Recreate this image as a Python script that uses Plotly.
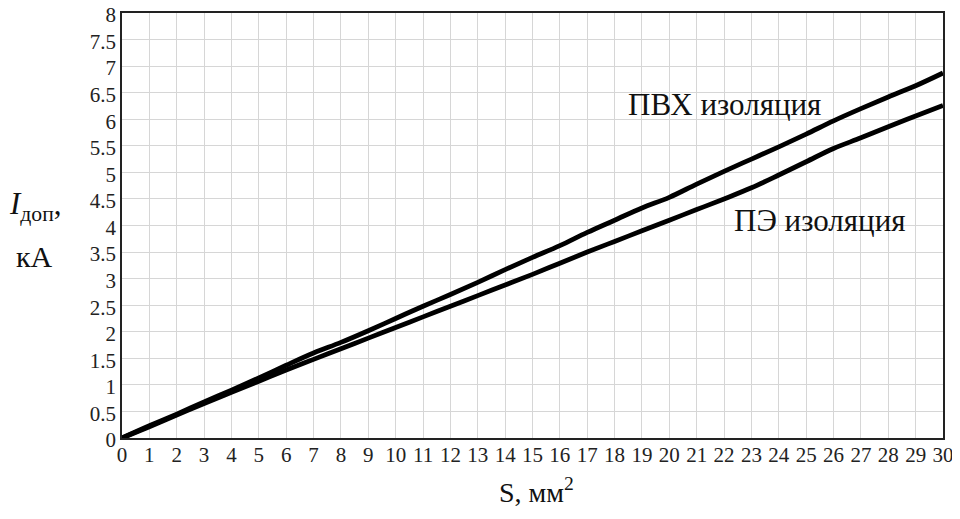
import plotly.graph_objects as go

S = list(range(0, 31))
pvc = [0, 0.23, 0.45, 0.68, 0.9, 1.13, 1.37, 1.6, 1.8, 2.02, 2.25, 2.48, 2.7, 2.93, 3.17,
       3.4, 3.62, 3.87, 4.1, 4.33, 4.53, 4.78, 5.02, 5.25, 5.48, 5.72, 5.97, 6.2, 6.42, 6.63, 6.87]
pe = [0, 0.21, 0.43, 0.65, 0.86, 1.07, 1.28, 1.48, 1.68, 1.88, 2.08, 2.28, 2.48, 2.68, 2.88,
      3.08, 3.29, 3.5, 3.7, 3.9, 4.1, 4.3, 4.5, 4.71, 4.95, 5.2, 5.45, 5.65, 5.86, 6.06, 6.26]
x_ticks = list(range(0, 31))
y_ticks = [i * 0.5 for i in range(0, 17)]
y_tick_text = ["0", "0.5", "1", "1.5", "2", "2.5", "3", "3.5", "4", "4.5", "5", "5.5", "6", "6.5", "7", "7.5", "8"]
label_pvc = "ПВХ изоляция"
label_pe = "ПЭ изоляция"

font_serif = '"Liberation Serif", "Times New Roman", Times, serif'

# page body has an 8px margin: figure sized so the plot lands where the reference has it
OFF = 8
W, H = 960 - OFF, 519 - OFF
pl, pr, pt, pb = 122 - OFF, 17, 13 - OFF, 81
pw, ph = W - pl - pr, H - pt - pb


def px2paper(xp, yp):
    xp -= OFF
    yp -= OFF
    return (xp - pl) / pw, (H - pb - yp) / ph


fig = go.Figure()
fig.add_trace(go.Scatter(x=S, y=pvc, mode="lines", line=dict(color="black", width=4.8, shape="spline"),
                         name=label_pvc, showlegend=False))
fig.add_trace(go.Scatter(x=S, y=pe, mode="lines", line=dict(color="black", width=4.8, shape="spline"),
                         name=label_pe, showlegend=False))

ann = []
ann.append(dict(x=22.0, y=6.27, xref="x", yref="y", text=label_pvc, showarrow=False,
                xanchor="center", yanchor="middle",
                font=dict(size=31, family=font_serif, color="#111")))
ann.append(dict(x=25.5, y=4.1, xref="x", yref="y", text=label_pe, showarrow=False,
                xanchor="center", yanchor="middle",
                font=dict(size=31, family=font_serif, color="#111")))
xx, yy = px2paper(536, 490)
ann.append(dict(x=xx, y=yy, xref="paper", yref="paper", text="S, мм<sup>2</sup>", showarrow=False,
                xanchor="center", yanchor="middle",
                font=dict(size=28, family=font_serif, color="#111")))
xx, yy = px2paper(35, 206)
ann.append(dict(x=xx, y=yy, xref="paper", yref="paper",
                text="<i>I</i><sub>доп</sub>,", showarrow=False,
                xanchor="center", yanchor="middle",
                font=dict(size=31, family=font_serif, color="#111")))
xx, yy = px2paper(34, 256)
ann.append(dict(x=xx, y=yy, xref="paper", yref="paper", text="кА", showarrow=False,
                xanchor="center", yanchor="middle",
                font=dict(size=30, family=font_serif, color="#111")))

fig.update_layout(
    width=W, height=H, autosize=False,
    margin=dict(l=pl, r=pr, t=pt, b=pb, autoexpand=False),
    paper_bgcolor="white", plot_bgcolor="white",
    font=dict(family=font_serif, color="#222", size=21),
    xaxis=dict(range=[0, 30], tickvals=x_ticks, ticktext=[str(v) for v in x_ticks],
               showgrid=True, gridcolor="#d6d6d6", gridwidth=1, automargin=False,
               showline=True, linecolor="#222", linewidth=1.5, mirror=True,
               ticklabeloverflow="allow", ticklabelstandoff=-3,
               ticks="", zeroline=False, tickfont=dict(size=21, family=font_serif, color="#222")),
    yaxis=dict(range=[0, 8], tickvals=y_ticks, ticktext=y_tick_text,
               showgrid=True, gridcolor="#d6d6d6", gridwidth=1, automargin=False,
               showline=True, linecolor="#222", linewidth=1.5, mirror=True,
               ticklabeloverflow="allow", ticklabelshift=2,
               ticks="", zeroline=False, tickfont=dict(size=21, family=font_serif, color="#222")),
    annotations=ann,
)

fig.write_html("out.html")
